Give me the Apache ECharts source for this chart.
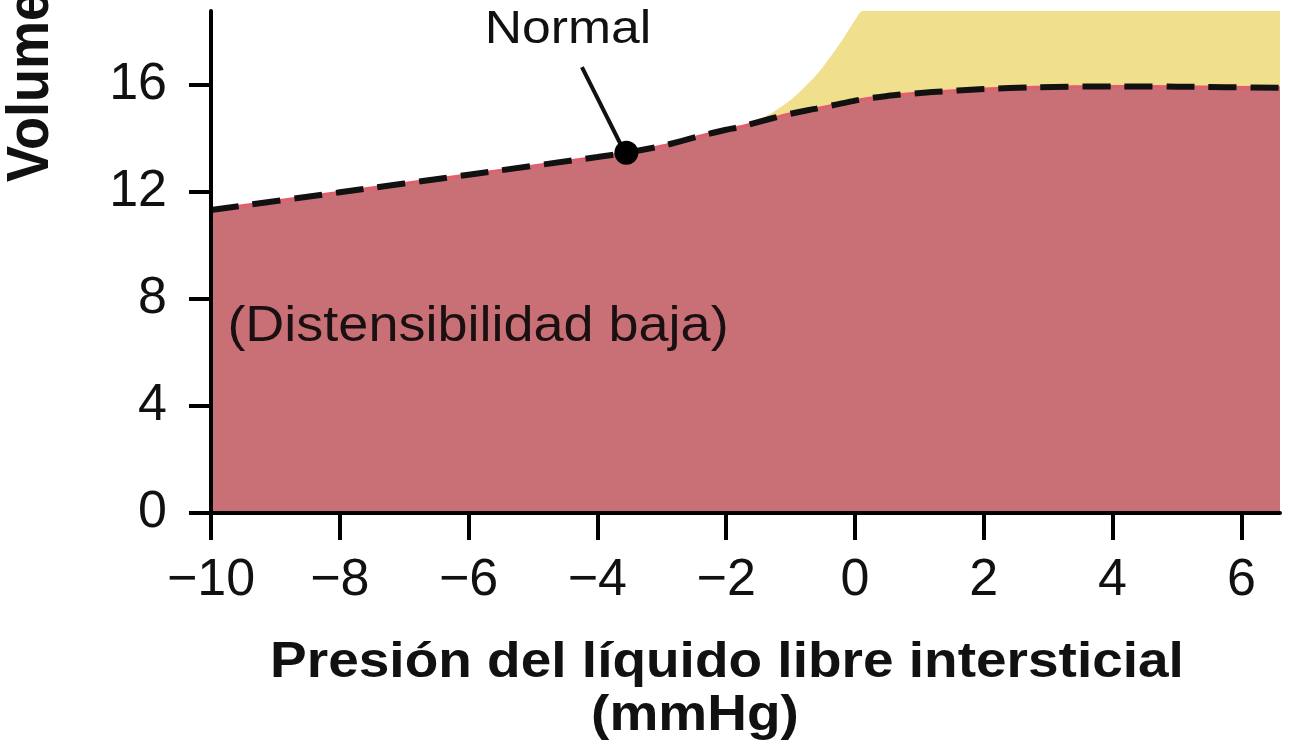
<!DOCTYPE html>
<html>
<head>
<meta charset="utf-8">
<style>
  html, body { margin: 0; padding: 0; background: #ffffff; }
  #chart { width: 1294px; height: 756px; }
</style>
<script src="https://cdn.jsdelivr.net/npm/echarts@6/dist/echarts.min.js"></script>
</head>
<body>
<div id="chart"></div>
<script>
// ---- data ----
var xTicks = [-10, -8, -6, -4, -2, 0, 2, 4, 6];
var yTicks = [0, 4, 8, 12, 16];

// lower curve: low-compliance (red) region boundary
var lowerX = [-10, -8, -6, -4, -3.55, -3, -2.4, -2, -1.8, -1.3, -1.0, -0.6, -0.3, 0, 0.2, 0.6, 1.2, 2, 2.8, 4, 5, 6.6];
var lowerY = [11.33, 11.99, 12.65, 13.31, 13.47, 13.72, 14.1, 14.33, 14.43, 14.75, 14.93, 15.12, 15.27, 15.42, 15.5, 15.62, 15.74, 15.85, 15.92, 15.95, 15.94, 15.9];

// upper curve: high-compliance (yellow) region boundary
var upperX = [-1.8, -1.6, -1.3, -1.0, -0.75, -0.5, -0.23, 0.03, 0.12, 6.6];
var upperY = [14.43, 14.6, 14.95, 15.44, 16.0, 16.67, 17.57, 18.54, 18.77, 18.77];

// "Normal" point and its pointer
var normalPoint = [-3.55, 13.47];
var pointerX = [-4.24, -3.6];
var pointerY = [16.67, 13.6];

var xRange = [-10, 6.6];
var yRange = [0, 18.77];

function pairs(xs, ys) { return xs.map(function (x, i) { return [x, ys[i]]; }); }
function fmt(v) { return v < 0 ? '\u2212' + Math.abs(v) : String(v); }

var FONT = "'Liberation Sans', Arial, Helvetica, sans-serif";
var RED = '#c97077';
var YELLOW = '#f0df8c';

var chart = echarts.init(document.getElementById('chart'), null, { renderer: 'canvas' });

var option = {
  backgroundColor: '#ffffff',
  animation: false,
  grid: { left: 211, right: 14, top: 11, bottom: 243, containLabel: false },
  xAxis: {
    type: 'value',
    min: xRange[0], max: xRange[1],
    z: 10,
    axisLine: { show: true, onZero: false, lineStyle: { color: '#000', width: 4 } },
    axisTick: { show: true, length: 27, lineStyle: { color: '#000', width: 4 }, customValues: xTicks },
    axisLabel: { show: true, margin: 42, fontSize: 52, fontFamily: FONT, color: '#111', customValues: xTicks, formatter: fmt },
    splitLine: { show: false }
  },
  yAxis: {
    type: 'value',
    min: yRange[0], max: yRange[1],
    z: 10,
    axisLine: { show: true, onZero: false, lineStyle: { color: '#000', width: 4 } },
    axisTick: { show: true, length: 22, lineStyle: { color: '#000', width: 4 }, customValues: yTicks },
    axisLabel: { show: true, margin: 44, fontSize: 52, fontFamily: FONT, color: '#111', customValues: yTicks, formatter: fmt },
    splitLine: { show: false }
  },
  series: [
    {
      name: 'Distensibilidad alta', type: 'line', silent: true, z: 1,
      data: pairs(upperX, upperY), smooth: 0.3, showSymbol: false,
      lineStyle: { width: 0, color: YELLOW },
      areaStyle: { color: YELLOW, opacity: 1, origin: 'start' }
    },
    {
      name: 'Distensibilidad baja', type: 'line', silent: true, z: 2,
      data: pairs(lowerX, lowerY), smooth: 0.2, showSymbol: false,
      lineStyle: { width: 3, color: '#e0606e' },
      areaStyle: { color: RED, opacity: 1, origin: 'start' }
    },
    {
      name: 'Curva', type: 'line', silent: true, z: 3,
      data: pairs(lowerX, lowerY), smooth: 0.2, showSymbol: false,
      lineStyle: { width: 6, color: '#111', type: [28, 14] }
    },
    {
      name: 'Puntero', type: 'line', silent: true, z: 4,
      data: pairs(pointerX, pointerY), showSymbol: false,
      lineStyle: { width: 4, color: '#111' }
    },
    {
      name: 'Normal', type: 'scatter', silent: true, z: 5,
      data: [normalPoint], symbol: 'circle', symbolSize: 24,
      itemStyle: { color: '#000', opacity: 1 }
    }
  ],
  graphic: [
    {
      type: 'text', x: 568, y: 30, scaleX: 1.1, silent: true, z: 100,
      style: { text: 'Normal', fontSize: 47, fontFamily: FONT, fill: '#111',
               align: 'center', verticalAlign: 'middle', textAlign: 'center', textVerticalAlign: 'middle' }
    },
    {
      type: 'text', x: 478, y: 327, scaleX: 1.08, silent: true, z: 100,
      style: { text: '(Distensibilidad baja)', fontSize: 50, fontFamily: FONT, fill: '#1a1012',
               align: 'center', verticalAlign: 'middle', textAlign: 'center', textVerticalAlign: 'middle' }
    },
    {
      type: 'text', x: 727, y: 663, scaleX: 1.1, silent: true, z: 100,
      style: { text: 'Presión del líquido libre intersticial', fontSize: 50, fontWeight: 'bold', fontFamily: FONT, fill: '#111',
               align: 'center', verticalAlign: 'middle', textAlign: 'center', textVerticalAlign: 'middle' }
    },
    {
      type: 'text', x: 718 - 23, y: 716, scaleX: 1.1, silent: true, z: 100,
      style: { text: '(mmHg)', fontSize: 50, fontWeight: 'bold', fontFamily: FONT, fill: '#111',
               align: 'center', verticalAlign: 'middle', textAlign: 'center', textVerticalAlign: 'middle' }
    },
    {
      type: 'text', x: 32, y: 182, rotation: Math.PI / 2, scaleY: 1.1, silent: true, z: 100,
      style: { text: 'Volumen de líquido intersticial (litros)', fontSize: 54, fontWeight: 'bold', fontFamily: FONT, fill: '#111',
               align: 'left', verticalAlign: 'middle', textAlign: 'left', textVerticalAlign: 'middle' }
    }
  ]
};

chart.setOption(option);
</script>
</body>
</html>
